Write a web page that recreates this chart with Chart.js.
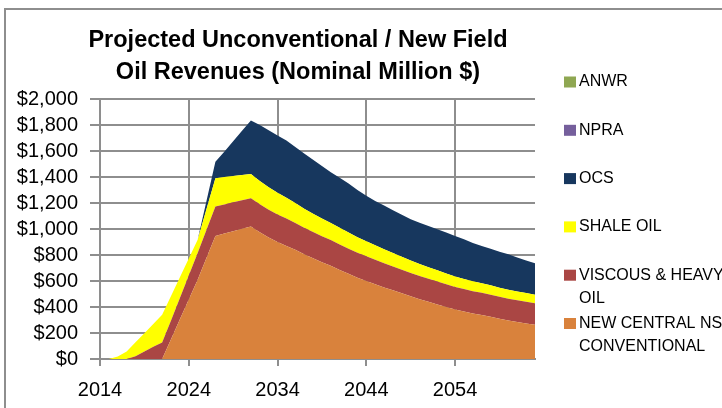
<!DOCTYPE html>
<html>
<head>
<meta charset="utf-8">
<script src="https://cdn.jsdelivr.net/npm/chart.js@4.4.1/dist/chart.umd.min.js"></script>
<style>
  html, body { margin: 0; padding: 0; background: #fff; overflow: hidden; }
  #wrap { position: relative; width: 722px; height: 408px; }
  #frame { position: absolute; left: 4px; top: 8px; width: 800px; height: 500px; border: 2px solid #8e8e8e; }
  #revenueChart { position: absolute; left: 0; top: 0; }
</style>
</head>
<body>
<div id="wrap">
  <div id="frame"></div>
  <canvas id="revenueChart" width="722" height="408"></canvas>
</div>
<script>
// years on the category axis
const YEARS = [
  2014, 2015, 2016, 2017, 2018, 2019, 2020, 2021, 2022, 2023,
  2024, 2025, 2026, 2027, 2028, 2029, 2030, 2031, 2032, 2033,
  2034, 2035, 2036, 2037, 2038, 2039, 2040, 2041, 2042, 2043,
  2044, 2045, 2046, 2047, 2048, 2049, 2050, 2051, 2052, 2053,
  2054, 2055, 2056, 2057, 2058, 2059, 2060, 2061, 2062, 2063,
];
const X_TICK_LABELS = ['2014', '2024', '2034', '2044', '2054'];
const Y_TICKS = [0, 200, 400, 600, 800, 1000, 1200, 1400, 1600, 1800, 2000];

const TITLE_LINES = ['Projected Unconventional / New Field', 'Oil Revenues (Nominal Million $)'];

// series, bottom of the stack first
const NEW_CENTRAL = [
  0, 0, 0, 0, 0, 0, 0, 0, 152, 305,
  457, 609, 778, 947, 965, 983, 1001, 1019, 975, 935,
  900, 870, 840, 805, 775, 745, 718, 685, 655, 625,
  600, 575, 550, 528, 505, 482, 460, 440, 420, 400,
  380, 365, 350, 338, 325, 310, 296, 284, 274, 264,
];
const VISCOUS_HEAVY = [
  0, 0, 0, 0, 22, 58, 94, 127, 144, 164,
  185, 206, 216, 226, 224, 222, 220, 218, 215, 214,
  212, 210, 207, 204, 202, 200, 198, 196, 194, 192,
  190, 188, 186, 184, 182, 180, 178, 177, 176, 175,
  174, 173, 172, 171, 170, 169, 168, 167, 166, 165,
];
const SHALE_OIL = [
  0, 0, 20, 58, 106, 141, 175, 213, 188, 159,
  131, 102, 160, 218, 211, 203, 195, 187, 180, 172,
  166, 160, 153, 147, 141, 136, 131, 128, 124, 120,
  116, 112, 108, 104, 100, 96, 92, 89, 86, 83,
  80, 78, 76, 74, 72, 70, 69, 68, 67, 66,
];
const OCS = [
  0, 0, 0, 0, 0, 0, 0, 0, 0, 0,
  0, 0, 64, 127, 195, 267, 339, 410, 430, 439,
  442, 440, 430, 424, 415, 404, 389, 386, 377, 363,
  349, 340, 336, 329, 323, 317, 318, 317, 316, 315,
  312, 305, 295, 287, 281, 276, 272, 261, 251, 242,
];
const NPRA = [
  0, 0, 0, 0, 0, 0, 0, 0, 0, 0,
  0, 0, 0, 0, 0, 0, 0, 0, 0, 0,
  0, 0, 0, 0, 0, 0, 0, 0, 0, 0,
  0, 0, 0, 0, 0, 0, 0, 0, 0, 0,
  0, 0, 0, 0, 0, 0, 0, 0, 0, 0,
];
const ANWR = [
  0, 0, 0, 0, 0, 0, 0, 0, 0, 0,
  0, 0, 0, 0, 0, 0, 0, 0, 0, 0,
  0, 0, 0, 0, 0, 0, 0, 0, 0, 0,
  0, 0, 0, 0, 0, 0, 0, 0, 0, 0,
  0, 0, 0, 0, 0, 0, 0, 0, 0, 0,
];

const SERIES_LINES = [
  ['NEW CENTRAL NS', 'CONVENTIONAL'],
  ['VISCOUS & HEAVY', 'OIL'],
  ['SHALE OIL'],
  ['OCS'],
  ['NPRA'],
  ['ANWR'],
];
const SERIES_DATA = [NEW_CENTRAL, VISCOUS_HEAVY, SHALE_OIL, OCS, NPRA, ANWR];
const SERIES_COLORS = ['#d9823c', '#aa4644', '#ffff00', '#17375e', '#755f9c', '#8fa752'];

const FONT = '"Liberation Sans", Arial, sans-serif';
const GRID = '#8e8e8e';

function formatDollar(v) {
  return '$' + Number(v).toLocaleString('en-US');
}

// title + legend drawn on the canvas (Excel-like wrapped legend)
const titleLegendPlugin = {
  id: 'titleLegend',
  afterDraw(chart) {
    const ctx = chart.ctx;
    ctx.save();
    ctx.fillStyle = '#000';
    ctx.textAlign = 'center';
    ctx.textBaseline = 'middle';
    ctx.font = 'bold 23.5px ' + FONT;
    TITLE_LINES.forEach((t, i) => ctx.fillText(t, 298, 41 + i * 31.5));

    ctx.textAlign = 'left';
    ctx.font = '16px ' + FONT;
    const items = chart.data.datasets.slice().reverse();
    items.forEach((ds, i) => {
      const y = 82 + i * 48.3;
      ctx.fillStyle = ds.backgroundColor;
      ctx.fillRect(564, y - 5.5, 12, 11);
      ctx.fillStyle = '#000';
      ds.lines.forEach((line, j) => ctx.fillText(line, 579, y + j * 23.3));
    });
    ctx.restore();
  },
};

function renderChart() {
  const canvas = document.getElementById('revenueChart');
  const ctx = canvas.getContext('2d');

  const datasets = SERIES_DATA.map((data, i) => ({
    label: SERIES_LINES[i].join(' '),
    lines: SERIES_LINES[i],
    data,
    backgroundColor: SERIES_COLORS[i],
    borderColor: 'rgba(0,0,0,0)',
    borderWidth: 0,
    pointRadius: 0,
    tension: 0,
    fill: i === 0 ? 'origin' : '-1',
  }));

  new Chart(ctx, {
    type: 'line',
    data: { labels: YEARS, datasets },
    options: {
      responsive: false,
      animation: false,
      layout: { padding: { top: 99, right: 187, bottom: 6, left: 0 } },
      plugins: {
        legend: { display: false },
        title: { display: false },
        tooltip: { enabled: false },
      },
      scales: {
        x: {
          offset: false,
          afterFit(scale) { scale.height = 43; },
          grid: { color: GRID, lineWidth: 2, tickLength: 7 },
          border: { color: GRID, width: 2 },
          ticks: {
            autoSkip: false,
            maxRotation: 0,
            padding: 12,
            color: '#000',
            font: { family: FONT, size: 20 },
            callback(value) {
              const lbl = String(this.getLabelForValue(value));
              return X_TICK_LABELS.includes(lbl) ? lbl : null;
            },
          },
        },
        y: {
          stacked: true,
          min: Y_TICKS[0],
          max: Y_TICKS[Y_TICKS.length - 1],
          afterFit(scale) { scale.width = 100; },
          afterBuildTicks(scale) { scale.ticks = Y_TICKS.map((v) => ({ value: v })); },
          grid: { color: GRID, lineWidth: 2, tickLength: 10 },
          border: { color: GRID, width: 2 },
          ticks: {
            autoSkip: false,
            padding: 12,
            color: '#000',
            font: { family: FONT, size: 20 },
            callback: (v) => formatDollar(v),
          },
        },
      },
    },
    plugins: [titleLegendPlugin],
  });
}

document.addEventListener('DOMContentLoaded', renderChart);
</script>
</body>
</html>
